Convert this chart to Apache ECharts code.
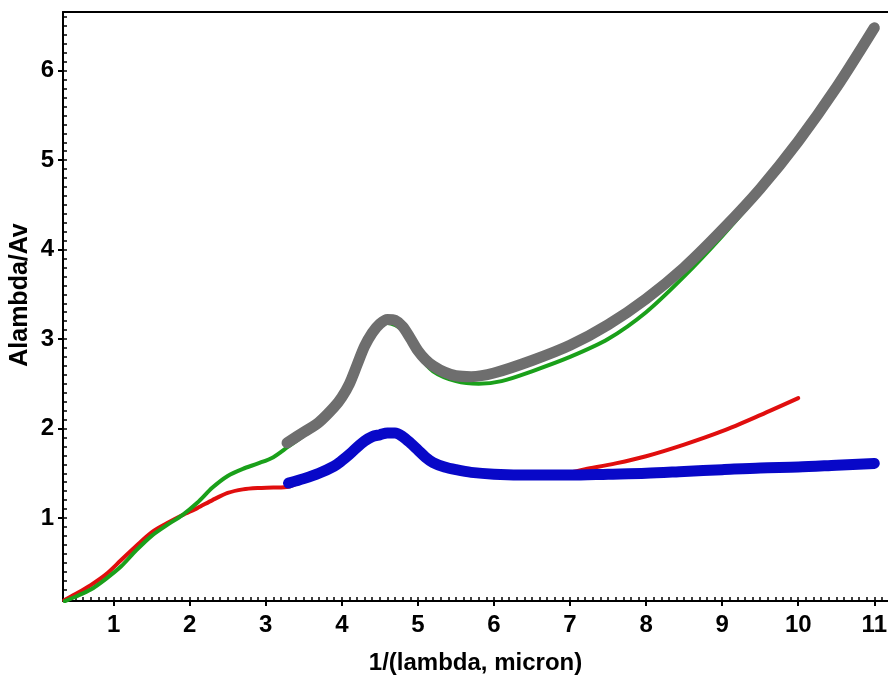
<!DOCTYPE html>
<html>
<head>
<meta charset="utf-8">
<script src="https://cdn.jsdelivr.net/npm/echarts@6/dist/echarts.min.js"></script>
<style>html,body{margin:0;padding:0;background:#fff}#c{width:888px;height:681px}</style>
</head>
<body>
<div id="c"></div>
<script>
// ---- data ----
var redX = [0.35,0.5,0.7,0.9,1.1,1.3,1.5,1.7,1.9,2.1,2.3,2.5,2.7,2.9,3.1,3.3,3.5,4.0,4.3,4.6,4.8,5.0,5.3,5.6,6.0,6.5,7.0,7.2,7.6,8.0,8.5,9.0,9.5,10.0];
var redY = [0.08,0.15,0.25,0.37,0.53,0.69,0.84,0.94,1.03,1.11,1.20,1.28,1.32,1.335,1.34,1.35,1.42,1.62,1.84,1.93,1.89,1.74,1.57,1.50,1.47,1.47,1.51,1.545,1.61,1.69,1.82,1.97,2.15,2.34];

var greenX = [0.36,0.5,0.7,0.9,1.1,1.3,1.5,1.7,1.9,2.1,2.3,2.5,2.7,2.9,3.1,3.3,3.5,3.7,4.0,4.2,4.4,4.6,4.8,5.0,5.2,5.5,5.8,6.1,6.5,7.0,7.5,8.0,8.5,9.0,9.5,10.0];
var greenY = [0.07,0.12,0.20,0.32,0.46,0.64,0.80,0.92,1.03,1.17,1.34,1.47,1.55,1.61,1.68,1.80,1.92,2.04,2.32,2.67,3.03,3.18,3.10,2.83,2.64,2.53,2.50,2.53,2.64,2.80,3.00,3.30,3.70,4.15,4.64,5.18];

var grayX = [3.28,3.5,3.7,3.9,4.0,4.1,4.2,4.3,4.4,4.5,4.6,4.7,4.8,4.9,5.0,5.1,5.2,5.35,5.5,5.7,6.0,6.5,7.0,7.5,8.0,8.5,9.0,9.5,10.0,10.5,11.0];
var grayY = [1.84,1.96,2.07,2.24,2.35,2.50,2.71,2.92,3.07,3.17,3.22,3.21,3.14,3.01,2.87,2.77,2.70,2.63,2.59,2.58,2.62,2.76,2.93,3.16,3.45,3.80,4.22,4.68,5.21,5.81,6.48];

var blueX = [3.3,3.5,3.7,3.9,4.0,4.1,4.2,4.3,4.4,4.5,4.6,4.7,4.8,4.9,5.0,5.1,5.2,5.35,5.5,5.7,6.0,6.5,7.0,7.5,8.0,8.5,9.0,9.5,10.0,10.5,11.0];
var blueY = [1.39,1.44,1.50,1.58,1.64,1.71,1.79,1.86,1.91,1.93,1.95,1.95,1.91,1.84,1.76,1.68,1.62,1.57,1.54,1.51,1.49,1.48,1.48,1.49,1.50,1.52,1.54,1.56,1.57,1.59,1.61];

var xMajorTicks = [1,2,3,4,5,6,7,8,9,10,11];
var yMajorTicks = [1,2,3,4,5,6];
var xMin = 0.335, xMax = 11.18;
var yMin = 0.072, yMax = 6.656;
var xTitle = '1/(lambda, micron)';
var yTitle = 'Alambda/Av';

// ---- build ----
function pairs(xs, ys){ var out=[]; for (var i=0;i<xs.length;i++) out.push([xs[i], ys[i]]); return out; }
function minorTicks(lo, hi){ var out=[]; for (var k=Math.ceil(lo*10); k<=Math.floor(hi*10); k++) out.push(+(k/10).toFixed(1)); return out; }

var FONT = '"Liberation Sans", Arial, sans-serif';
var lblStyle = {fontFamily: FONT, fontWeight: 'bold', fontSize: 24, color: '#000'};
var axisLineStyle = {show: true, lineStyle: {color: '#000', width: 2}};

var chart = echarts.init(document.getElementById('c'), null, {renderer: 'canvas'});
chart.setOption({
  animation: false,
  backgroundColor: '#fff',
  grid: {left: 63, right: 0, top: 12, bottom: 80, containLabel: false, outerBoundsMode: 'none'},
  graphic: [
    {type: 'text', x: 33, y: 295, rotation: Math.PI / 2, silent: true,
     style: {text: yTitle, fontFamily: FONT, fontWeight: 'bold', fontSize: 25, fill: '#000',
             align: 'center', verticalAlign: 'bottom'}}
  ],
  xAxis: [
    {type: 'value', min: xMin, max: xMax, position: 'bottom',
     axisLine: axisLineStyle,
     axisTick: {show: true, inside: false, length: 5, lineStyle: {color: '#000', width: 2}, customValues: xMajorTicks},
     axisLabel: Object.assign({show: true, margin: 12, customValues: xMajorTicks}, lblStyle),
     splitLine: {show: false},
     name: xTitle, nameLocation: 'middle', nameGap: 50,
     nameTextStyle: {fontFamily: FONT, fontWeight: 'bold', fontSize: 24, color: '#000'}},
    {type: 'value', min: xMin, max: xMax, position: 'bottom', offset: 0,
     axisLine: {show: false},
     axisTick: {show: true, inside: true, length: 4, lineStyle: {color: '#000', width: 1.5}, customValues: minorTicks(xMin, xMax)},
     axisLabel: {show: false}, splitLine: {show: false}},
    {type: 'value', min: xMin, max: xMax, position: 'top',
     axisLine: axisLineStyle, axisTick: {show: false}, axisLabel: {show: false}, splitLine: {show: false}}
  ],
  yAxis: [
    {type: 'value', min: yMin, max: yMax, position: 'left',
     axisLine: axisLineStyle,
     axisTick: {show: true, inside: false, length: 5, lineStyle: {color: '#000', width: 2}, customValues: yMajorTicks},
     axisLabel: Object.assign({show: true, margin: 9, customValues: yMajorTicks}, lblStyle),
     splitLine: {show: false}},
    {type: 'value', min: yMin, max: yMax, position: 'left', offset: 0,
     axisLine: {show: false},
     axisTick: {show: true, inside: true, length: 4, lineStyle: {color: '#000', width: 1.5}, customValues: minorTicks(yMin, yMax)},
     axisLabel: {show: false}, splitLine: {show: false}}
  ],
  series: [
    {name: 'red', type: 'line', xAxisIndex: 0, yAxisIndex: 0, data: pairs(redX, redY), showSymbol: false, symbol: 'none', smooth: 0.3,
     lineStyle: {color: '#e00e0e', width: 4, cap: 'round', join: 'round'}, z: 2},
    {name: 'green', type: 'line', xAxisIndex: 0, yAxisIndex: 0, data: pairs(greenX, greenY), showSymbol: false, symbol: 'none', smooth: 0.3,
     lineStyle: {color: '#1aa01a', width: 4, cap: 'round', join: 'round'}, z: 3},
    {name: 'blue', type: 'line', xAxisIndex: 0, yAxisIndex: 0, data: pairs(blueX, blueY), showSymbol: false, symbol: 'none', smooth: 0.3,
     lineStyle: {color: '#0808c8', width: 11, cap: 'round', join: 'round'}, z: 4},
    {name: 'gray', type: 'line', xAxisIndex: 0, yAxisIndex: 0, data: pairs(grayX, grayY), showSymbol: false, symbol: 'none', smooth: 0.3,
     lineStyle: {color: '#6e6e6e', width: 11, cap: 'round', join: 'round'}, z: 5}
  ]
});
</script>
</body>
</html>
